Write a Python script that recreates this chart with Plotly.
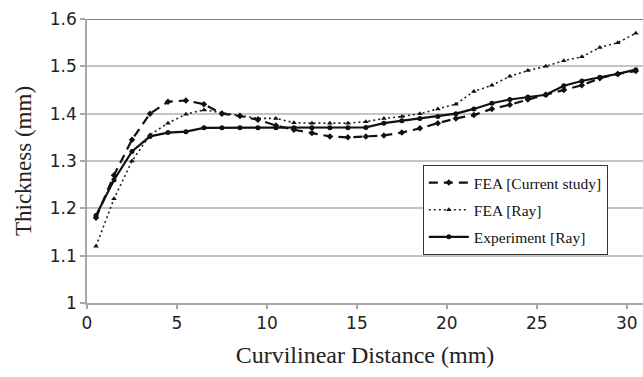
import plotly.graph_objects as go

# Data (curvilinear distance in mm, thickness in mm)
distance = [0.5 + i for i in range(31)]

fea_current = [1.18, 1.27, 1.345, 1.40, 1.425, 1.428, 1.42, 1.40, 1.395, 1.387,
               1.375, 1.366, 1.359, 1.352, 1.35, 1.352, 1.354, 1.36, 1.369, 1.38,
               1.39, 1.397, 1.41, 1.419, 1.43, 1.44, 1.45, 1.46, 1.475, 1.484, 1.49]

fea_ray = [1.12, 1.22, 1.30, 1.355, 1.38, 1.399, 1.408, 1.402, 1.397, 1.39,
           1.39, 1.381, 1.38, 1.38, 1.38, 1.383, 1.39, 1.394, 1.40, 1.41,
           1.42, 1.447, 1.46, 1.479, 1.491, 1.50, 1.512, 1.52, 1.54, 1.55, 1.57]

experiment = [1.185, 1.26, 1.32, 1.352, 1.36, 1.362, 1.37, 1.37, 1.37, 1.37,
              1.37, 1.37, 1.37, 1.37, 1.37, 1.371, 1.38, 1.385, 1.39, 1.394,
              1.40, 1.41, 1.422, 1.43, 1.435, 1.44, 1.459, 1.469, 1.477, 1.484, 1.493]

x_ticks = [0, 5, 10, 15, 20, 25, 30]
y_ticks = [1, 1.1, 1.2, 1.3, 1.4, 1.5, 1.6]
y_ticklabels = ["1", "1.1", "1.2", "1.3", "1.4", "1.5", "1.6"]

fig = go.Figure()
fig.add_trace(go.Scatter(
    x=distance, y=fea_current, mode="lines+markers", name="FEA [Current study]",
    legendgroup="a",
    line=dict(color="#111111", width=2.2, dash="9px,6px"),
    marker=dict(symbol="diamond", size=5, color="#111111")))
fig.add_trace(go.Scatter(
    x=distance, y=fea_ray, mode="lines+markers", name="FEA [Ray]",
    legendgroup="b",
    line=dict(color="#222222", width=1.6, dash="2px,3px"),
    marker=dict(symbol="triangle-up", size=5, color="#111111")))
fig.add_trace(go.Scatter(
    x=distance, y=experiment, mode="lines+markers", name="Experiment [Ray]",
    legendgroup="c",
    line=dict(color="#111111", width=2.2),
    marker=dict(symbol="circle", size=5, color="#111111")))

fig.add_shape(type="line", xref="paper", yref="y", x0=0, x1=1, y0=1.6, y1=1.6,
              line=dict(color="#7a7a7a", width=2))

fig.update_layout(
    width=643, height=377,
    margin=dict(l=87, r=0, t=19, b=74),
    paper_bgcolor="white", plot_bgcolor="white",
    font=dict(family="Liberation Serif", color="#111111"),
    showlegend=True,
    legend=dict(x=0.604, y=0.486, xanchor="left", yanchor="top",
                bgcolor="white", bordercolor="#333333", borderwidth=1,
                font=dict(family="Liberation Serif", size=15.5, color="#111111"),
                tracegroupgap=4, itemwidth=40),
    xaxis=dict(range=[0, 30.9], tickvals=x_ticks, showgrid=False,
               showline=True, linecolor="#a8a8a8", linewidth=1.5,
               ticks="outside", ticklen=4, tickcolor="#a8a8a8", tickwidth=1.5,
               tickfont=dict(family="DejaVu Sans", size=17, color="#222222"),
               title=dict(text="Curvilinear Distance (mm)", standoff=14,
                          font=dict(family="Liberation Serif", size=24, color="#222222")),
               zeroline=False),
    yaxis=dict(range=[1, 1.6], tickvals=y_ticks, ticktext=y_ticklabels,
               showgrid=True, gridcolor="#c4c4c4", gridwidth=1.5,
               showline=True, linecolor="#a8a8a8", linewidth=1.5,
               ticks="outside", ticklen=5, tickcolor="#a8a8a8", tickwidth=1.5,
               tickfont=dict(family="DejaVu Sans", size=17, color="#222222"),
               title=dict(text="Thickness (mm)", standoff=12,
                          font=dict(family="Liberation Serif", size=23, color="#222222")),
               zeroline=False),
)

fig.write_html("out.html")
